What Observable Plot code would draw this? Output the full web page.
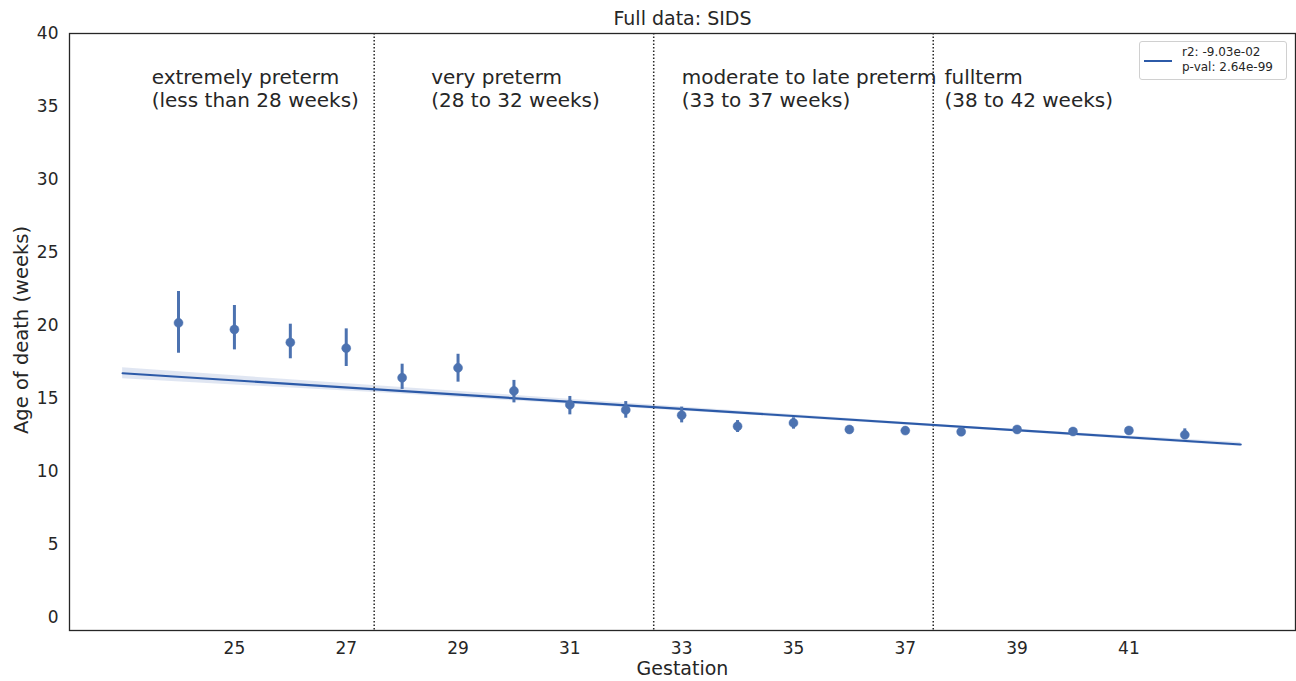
<!DOCTYPE html>
<html>
<head>
<meta charset="utf-8">
<script src="https://cdn.jsdelivr.net/npm/d3@7"></script>
<script src="https://cdn.jsdelivr.net/npm/@observablehq/plot@0.6"></script>
<style>
  html, body { margin: 0; padding: 0; background: #fff; }
  #wrap { position: relative; width: 1296px; height: 681px; font-family: "DejaVu Sans", sans-serif; }
  #legend { position: absolute; left: 1139px; top: 41px; width: 148px; height: 39px; box-sizing: border-box;
    border: 1px solid #d0d0d0; border-radius: 3px; background: rgba(255,255,255,0.8); font-size: 12px; color: #262626; }
  #legend .ln { position: absolute; left: 4px; top: 18px; width: 28px; height: 0; border-top: 2px solid #2c5aa8; }
  #legend .t1 { position: absolute; left: 42px; top: 3px; white-space: nowrap; }
  #legend .t2 { position: absolute; left: 42px; top: 18px; white-space: nowrap; }
</style>
</head>
<body>
<div id="wrap">
  <div id="chart"></div>
  <div id="legend"><div class="ln"></div><div class="t1">r2: -9.03e-02</div><div class="t2">p-val: 2.64e-99</div></div>
</div>
<script>
// Gestation (weeks) and mean age of death with confidence interval
const gestation = [24, 25, 26, 27, 28, 29, 30, 31, 32, 33, 34, 35, 36, 37, 38, 39, 40, 41, 42];
const ageMean   = [20.18, 19.73, 18.84, 18.45, 16.42, 17.10, 15.52, 14.57, 14.22, 13.86, 13.10, 13.33, 12.88, 12.80, 12.72, 12.88, 12.74, 12.81, 12.51];
const ciLow     = [18.10, 18.33, 17.72, 17.19, 15.62, 16.12, 14.70, 13.88, 13.65, 13.33, 12.67, 12.90, 12.68, 12.65, 12.60, 12.76, 12.62, 12.68, 12.24];
const ciHigh    = [22.33, 21.37, 20.09, 19.77, 17.35, 18.03, 16.24, 15.14, 14.79, 14.41, 13.49, 13.68, 13.08, 12.95, 12.84, 13.00, 12.86, 12.94, 12.92];

// Regression line and its confidence band
const fitX    = [23, 43];
const fitY    = [16.73, 11.85];
const bandX   = [23, 28, 33, 38, 43];
const bandLow = [16.35, 15.30, 14.15, 12.95, 11.72];
const bandHigh= [17.10, 15.75, 14.42, 13.10, 11.98];

// Category boundaries and labels
const boundaries = [27.5, 32.5, 37.5];
const groupX = [23.52, 28.52, 33.0, 37.7];
const groupLabels = ["extremely preterm\n(less than 28 weeks)", "very preterm\n(28 to 32 weeks)", "moderate to late preterm\n(33 to 37 weeks)", "fullterm\n(38 to 42 weeks)"];

const xTicks = [25, 27, 29, 31, 33, 35, 37, 39, 41];
const yTicks = [0, 5, 10, 15, 20, 25, 30, 35, 40];

const points = gestation.map((g, i) => ({x: g, y: ageMean[i], lo: ciLow[i], hi: ciHigh[i]}));
const fit = fitX.map((x, i) => ({x, y: fitY[i]}));
const band = bandX.map((x, i) => ({x, lo: bandLow[i], hi: bandHigh[i]}));
const groups = groupX.map((x, i) => ({x, text: groupLabels[i]}));

const ptColor = "#4c72b0";
const lineColor = "#2c5aa8";
const ink = "#262626";

const chart = Plot.plot({
  width: 1296,
  height: 681,
  marginLeft: 69,
  marginRight: 1,
  marginTop: 33,
  marginBottom: 51,
  style: {fontFamily: "DejaVu Sans, sans-serif", color: ink, background: "white"},
  x: {domain: [22.05, 43.98]},
  y: {domain: [-0.89, 40]},
  marks: [
    Plot.areaY(band, {x: "x", y1: "lo", y2: "hi", fill: lineColor, fillOpacity: 0.15}),
    Plot.ruleX(boundaries, {stroke: ink, strokeWidth: 1.5, strokeDasharray: "1.5,2"}),
    Plot.line(fit, {x: "x", y: "y", stroke: lineColor, strokeWidth: 2.2}),
    Plot.ruleX(points, {x: "x", y1: "lo", y2: "hi", stroke: ptColor, strokeWidth: 3}),
    Plot.dot(points, {x: "x", y: "y", r: 4.5, fill: ptColor, stroke: ptColor, strokeWidth: 0.5}),
    Plot.text(groups, {x: "x", y: 36.27, text: "text", textAnchor: "start", lineAnchor: "middle", lineHeight: 1.15, fontSize: 20, fill: ink}),
    Plot.frame({stroke: ink, strokeWidth: 1.3}),
    Plot.axisX({ticks: xTicks, tickSize: 0, tickPadding: 11, fontSize: 17, label: null, tickFormat: d => String(d)}),
    Plot.axisY({ticks: yTicks, tickSize: 0, tickPadding: 11, fontSize: 17, label: null}),
    Plot.text(["Gestation"], {text: d => d, frameAnchor: "bottom", lineAnchor: "middle", dy: 38, fontSize: 19, fill: ink}),
    Plot.text(["Age of death (weeks)"], {text: d => d, frameAnchor: "left", textAnchor: "middle", lineAnchor: "middle", dx: -48, dy: -2, rotate: -90, fontSize: 19.5, fill: ink}),
    Plot.text(["Full data: SIDS"], {text: d => d, frameAnchor: "top", lineAnchor: "middle", dy: -15, fontSize: 19, fill: ink})
  ]
});
document.getElementById("chart").appendChild(chart);
</script>
</body>
</html>
